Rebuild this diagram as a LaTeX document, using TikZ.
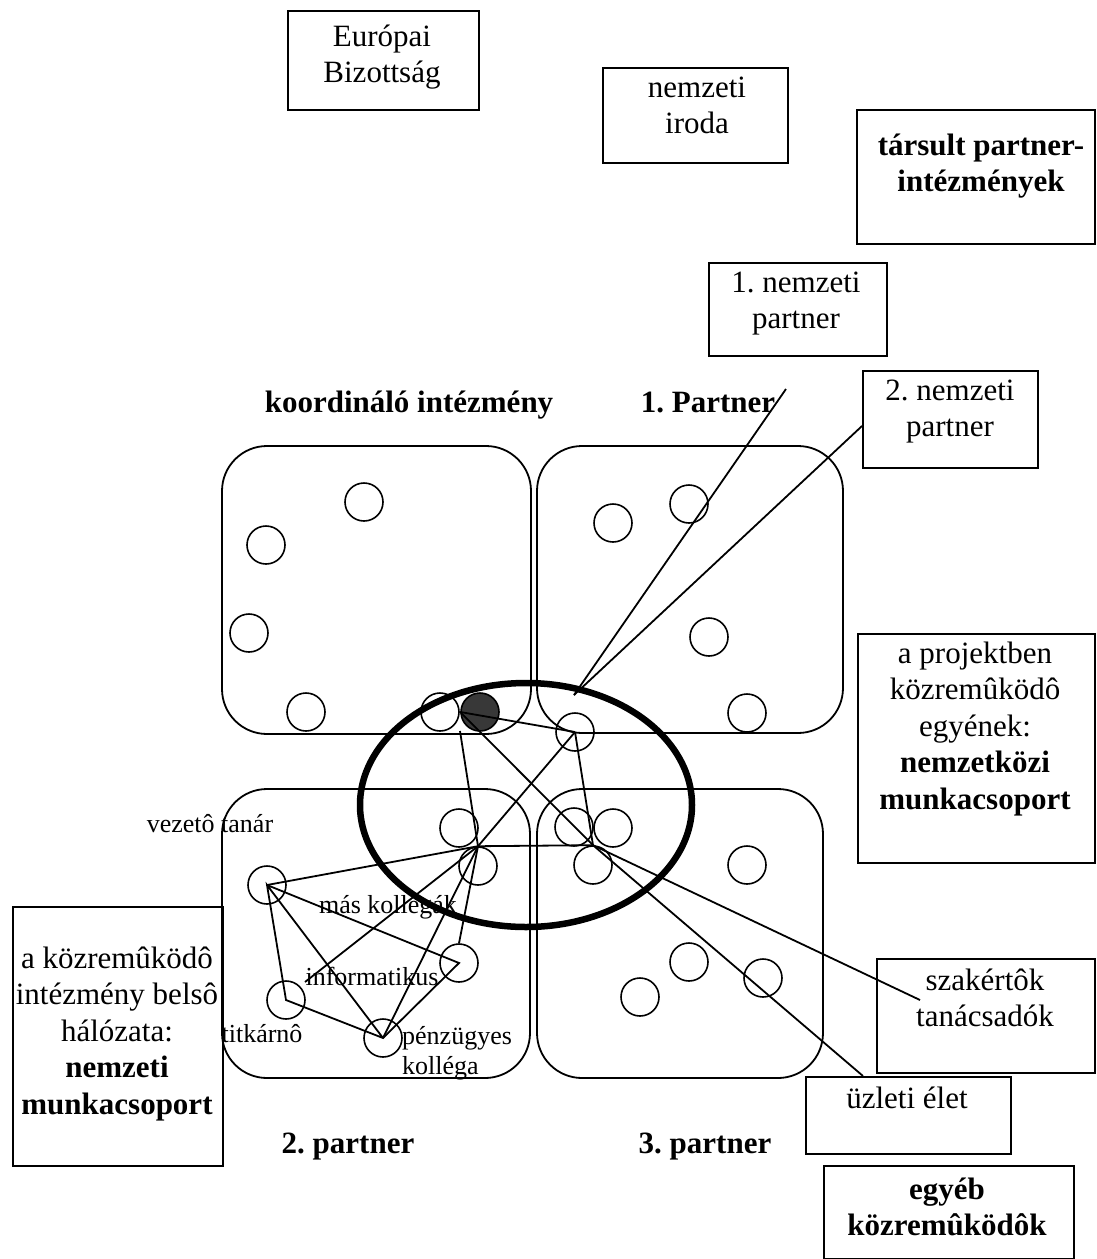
\documentclass[tikz,border=0pt]{standalone}
\usepackage{fontspec}
\setmainfont{Liberation Serif}
\frenchspacing
\begin{document}
\begin{tikzpicture}[x=1pt,y=-1pt,
  box/.style={draw, line width=1.8pt, inner sep=0pt, anchor=north west},
  txt/.style={align=center, inner sep=0pt, anchor=base, font=\fontsize{31}{36.5}\selectfont},
  head/.style={inner sep=0pt, anchor=base, font=\fontsize{31}{36.5}\selectfont\bfseries},
  small/.style={inner sep=0pt, anchor=base, font=\fontsize{26}{30}\selectfont},
  unit/.style={draw, line width=1.8pt, rounded corners=45pt},
  member/.style={draw, circle, line width=1.6pt, minimum size=38pt, inner sep=0pt},
  conn/.style={line width=1.8pt}]
\useasboundingbox (0,0) rectangle (1096,1259);

% four partner institutions
\draw[unit] (222,446) rectangle (531,734);
\draw[unit] (537,446) rectangle (843,733);
\draw[unit] (222,789) rectangle (530,1078);
\draw[unit] (537,789) rectangle (823,1078);

% international working group
\draw[line width=6.5pt] (526,805) ellipse [x radius=166pt, y radius=122pt];

% rectangular boxes (text nodes are placed at the baseline of their last line)
\node[box, minimum width=191pt, minimum height=99pt] (eb) at (287,10) {};
\node[txt] (eb-t) at (382,82.5) {Európai\\Bizottság};
\node[box, minimum width=185pt, minimum height=95pt] (ni) at (602,67) {};
\node[txt] (ni-t) at (697,133.5) {nemzeti\\iroda};
\node[box, minimum width=238pt, minimum height=134pt] (tp) at (856,109) {};
\node[txt, font=\fontsize{31}{36.5}\selectfont\bfseries] (tp-t) at (981,191.5) {társult partner-\\intézmények};
\node[box, minimum width=178pt, minimum height=93pt] (np1) at (708,262) {};
\node[txt] (np1-t) at (796,328.5) {1. nemzeti\\partner};
\node[box, minimum width=175pt, minimum height=97pt] (np2) at (862,370) {};
\node[txt] (np2-t) at (950,436.5) {2. nemzeti\\partner};
\node[box, minimum width=237pt, minimum height=229pt] (proj) at (857,633) {};
\node[txt] (proj-t) at (975,809) {a projektben\\közremûködô\\egyének:\\\textbf{nemzetközi}\\\textbf{munkacsoport}};
\node[box, minimum width=210pt, minimum height=259pt] (belso) at (12,906) {};
\node[txt] (belso-t) at (117,1114) {a közremûködô\\intézmény belsô\\hálózata:\\\textbf{nemzeti}\\\textbf{munkacsoport}};
\node[box, minimum width=218pt, minimum height=114pt] (szak) at (876,958) {};
\node[txt] (szak-t) at (985,1026.5) {szakértôk\\tanácsadók};
\node[box, minimum width=205pt, minimum height=77pt] (uz) at (805,1076) {};
\node[txt] (uz-t) at (907,1108) {üzleti élet};
\node[box, minimum width=250pt, minimum height=93pt] (egy) at (823,1165) {};
\node[txt, font=\fontsize{31}{36.5}\selectfont\bfseries] (egy-t) at (947,1235.5) {egyéb\\közremûködôk};

% institution headings
\node[head] (h0) at (409,412) {koordináló intézmény};
\node[head] (h1) at (708,412) {1. Partner};
\node[head] (h2) at (348,1153) {2. partner};
\node[head] (h3) at (705,1153) {3. partner};

% individuals: coordinating institution
\node[member] (k1) at (364,502) {};
\node[member] (k2) at (266,545) {};
\node[member] (k3) at (249,633) {};
\node[member] (k4) at (306,712) {};
\node[member] (k5) at (440,712) {};
\node[member, fill=black!78] (k6) at (480,712) {};
% individuals: partner 1
\node[member] (p1) at (613,523) {};
\node[member] (p2) at (689,504) {};
\node[member] (p3) at (709,637) {};
\node[member] (p4) at (747,713) {};
\node[member] (p5) at (575,732) {};
% individuals: partner 2
\node[member] (b1) at (459,828) {};
\node[member] (b2) at (478,866) {};
\node[member] (b3) at (267,885) {};
\node[member] (b4) at (459,963) {};
\node[member] (b5) at (286,1000) {};
\node[member] (b6) at (383,1038) {};
% individuals: partner 3
\node[member] (r1) at (574,827) {};
\node[member] (r2) at (613,828) {};
\node[member] (r3) at (593,865) {};
\node[member] (r4) at (747,865) {};
\node[member] (r5) at (689,962) {};
\node[member] (r6) at (763,978) {};
\node[member] (r7) at (640,997) {};

% role labels
\node[small] (l-vt) at (210,832) {vezetô tanár};
\node[small] (l-mk) at (388,913) {más kollegák};
\node[small] (l-inf) at (372,985) {informatikus};
\node[small] (l-tit) at (262,1042) {titkárnô};
\node[small, anchor=base west, align=left, font=\fontsize{26}{30}\selectfont] (l-pz) at (402,1074) {pénzügyes\\kolléga};

% connection points
\coordinate (hl) at (b2.north);
\coordinate (hr) at (r3.north);
\coordinate (kt) at (460,731);
\coordinate (infend) at (305,982);
\coordinate (tip) at (574,695);
\coordinate (p1end) at (786,389);
\coordinate (np2end) at (862,426);
\coordinate (szakend) at (920,1000);
\coordinate (uzend) at (863,1076);

% connections
\draw[conn] (k6.west) -- (p5.center);
\draw[conn] (k6.west) -- (hr);
\draw[conn] (hr) -- (p5.center);
\draw[conn] (hr) -- (hl);
\draw[conn] (hr) -- (szakend);
\draw[conn] (hr) -- (uzend);
\draw[conn] (hl) -- (kt);
\draw[conn] (hl) -- (p5.center);
\draw[conn] (hl) -- (b3.center);
\draw[conn] (hl) -- (infend);
\draw[conn] (hl) -- (b6.center);
\draw[conn] (hl) -- (b4.north);
\draw[conn] (b3.center) -- (b4.center) -- (b6.center) -- (b5.center) -- (b3.center) -- (b6.center);
\draw[conn] (tip) -- (p1end);
\draw[conn] (tip) -- (np2end);
\end{tikzpicture}
\end{document}
